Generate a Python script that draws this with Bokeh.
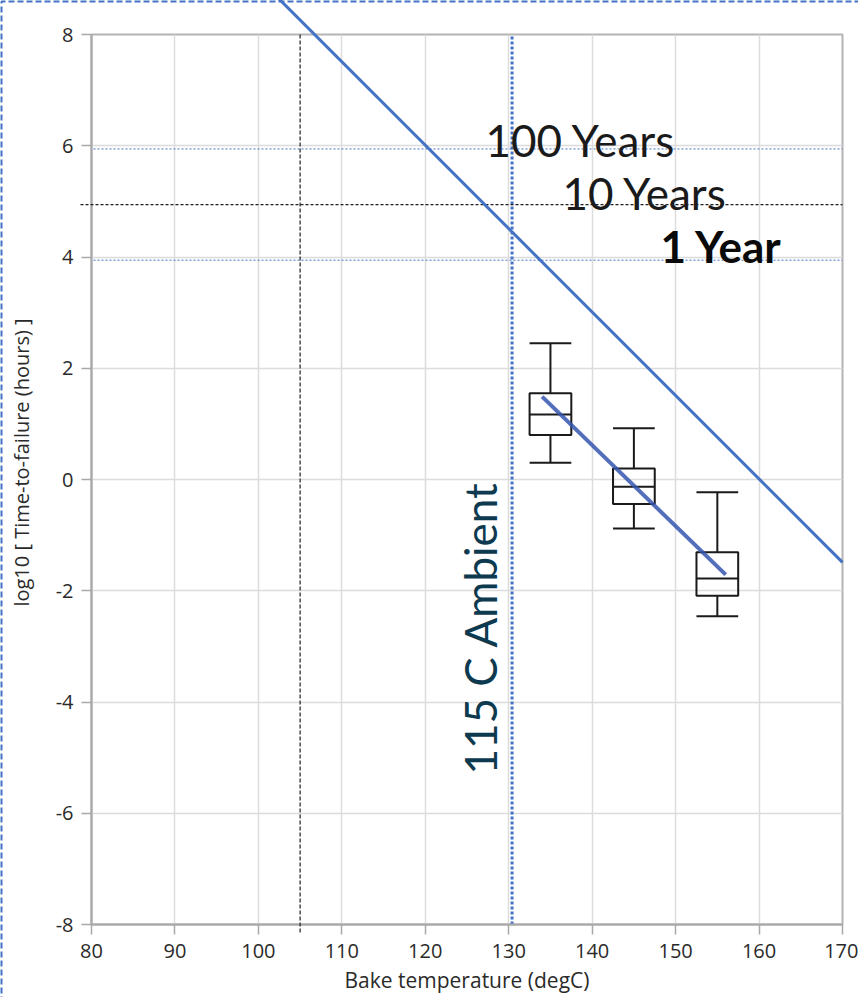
import math
from bokeh.plotting import figure
from bokeh.models import Range1d, FixedTicker, Label
from bokeh.core.properties import value
from bokeh.embed import file_html
from bokeh.resources import INLINE

# ---------------- data ----------------
x_ticks = [80, 90, 100, 110, 120, 130, 140, 150, 160, 170]
y_ticks = [-8, -6, -4, -2, 0, 2, 4, 6, 8]

bake_temp = [135, 145, 155]
whisker_hi = [2.45, 0.92, -0.23]
q3 = [1.55, 0.20, -1.31]
median = [1.17, -0.13, -1.78]
q1 = [0.80, -0.44, -2.09]
whisker_lo = [0.30, -0.88, -2.46]
box_width = 5.0

fit_x = [134.0, 156.0]
fit_y = [1.49, -1.71]

limit_x = [100.0, 170.0]
limit_y = [9.01, -1.49]

years_labels = ["100 Years", "10 Years", "1 Year"]
years_log_hours = [5.9425, 4.9425, 3.9425]

ref_temp = 105.0
ambient_temp = 130.4
ambient_label = "115 C Ambient"

x_title = "Bake temperature (degC)"
y_title = "log10 [ Time-to-failure (hours) ]"

# ---------------- geometry ----------------
W, H = 858, 997
FL, FR, FT, FB = 91, 842, 34, 924
XMIN, XMAX = x_ticks[0], x_ticks[-1]
YMIN, YMAX = y_ticks[0], y_ticks[-1]


def px2x(px):
    return XMIN + (px - FL) * (XMAX - XMIN) / (FR - FL)


def px2y(py):
    return YMAX - (py - FT) * (YMAX - YMIN) / (FB - FT)


p = figure(width=W, height=H, frame_width=FR - FL, frame_height=FB - FT,
           x_range=Range1d(XMIN, XMAX), y_range=Range1d(YMIN, YMAX),
           output_backend="svg", toolbar_location=None,
           min_border_left=FL, min_border_right=W - FR,
           min_border_top=FT, min_border_bottom=H - FB)
p.background_fill_color = "white"
p.border_fill_color = "white"
p.outline_line_color = "#b4b4b4"
p.outline_line_width = 2

AX = "#a8a8a8"
TXT = "#2a2a2a"
FONT = "Open Sans"
for ax in (p.xaxis[0], p.yaxis[0]):
    ax.axis_line_color = AX
    ax.axis_line_width = 2
    ax.major_tick_line_color = AX
    ax.major_tick_line_width = 1.5
    ax.major_tick_out = 10
    ax.major_tick_in = 0
    ax.minor_tick_line_color = None
    ax.major_label_text_font = FONT
    ax.major_label_text_font_size = "20px"
    ax.major_label_text_color = TXT
p.xaxis.ticker = FixedTicker(ticks=x_ticks)
p.yaxis.ticker = FixedTicker(ticks=y_ticks)
p.yaxis.major_label_overrides = {t: str(t) for t in y_ticks}
p.xaxis.major_label_overrides = {t: str(t) for t in x_ticks}
p.xaxis.major_label_standoff = 9
p.yaxis.major_label_standoff = 8
p.xaxis.axis_label = x_title
p.xaxis.axis_label_text_font = FONT
p.xaxis.axis_label_text_font_size = "21px"
p.xaxis.axis_label_text_font_style = "normal"
p.xaxis.axis_label_text_color = TXT
p.xaxis.axis_label_standoff = 5

p.xgrid.ticker = FixedTicker(ticks=x_ticks)
p.ygrid.ticker = FixedTicker(ticks=y_ticks)
for g in (p.xgrid[0], p.ygrid[0]):
    g.grid_line_color = "#dcdcdc"
    g.grid_line_width = 1.5

# reference lines: lifetimes
p.line([px2x(FL - 2), XMAX], [years_log_hours[0]] * 2, line_color="#4472c4",
       line_width=1, line_dash="2 2")
p.line([px2x(FL - 11), XMAX], [years_log_hours[1]] * 2, line_color="#202020",
       line_width=1.2, line_dash="3 2", level="overlay")
p.line([px2x(FL - 2), XMAX], [years_log_hours[2]] * 2, line_color="#4472c4",
       line_width=1, line_dash="2 2")

# vertical reference lines
p.line([ref_temp, ref_temp], [YMAX, px2y(FB + 10)], line_color="#202020",
       line_width=1.2, line_dash="4 2", level="overlay")
p.line([ambient_temp, ambient_temp], [YMIN, YMAX], line_color="#4472c4",
       line_width=3, line_dash="3 2")

# box plots
hw = box_width / 2
left = [t - hw for t in bake_temp]
right = [t + hw for t in bake_temp]
BOX = "#1a1a1a"
p.segment(bake_temp, q3, bake_temp, whisker_hi, line_color=BOX, line_width=2)
p.segment(bake_temp, q1, bake_temp, whisker_lo, line_color=BOX, line_width=2)
p.segment(left, whisker_hi, right, whisker_hi, line_color=BOX, line_width=2)
p.segment(left, whisker_lo, right, whisker_lo, line_color=BOX, line_width=2)
p.quad(left=left, right=right, top=q3, bottom=q1, fill_alpha=0,
       line_color=BOX, line_width=2)
p.segment(left, median, right, median, line_color=BOX, line_width=2)

# fit line through the boxes
p.line(fit_x, fit_y, line_color="#3556b0", line_width=4, line_alpha=0.85)

# extrapolated limit line (runs above the frame)
p.line(limit_x, limit_y, line_color="#4472c4", line_width=3, level="overlay")

# page border (top and left edges visible)
p.line([px2x(1), px2x(1), px2x(W + 5)], [px2y(H + 5), px2y(1), px2y(1)],
       line_color="#4472c4", line_width=2, line_dash="6 3", level="overlay")

# texts
ANN = "Lato"
p.add_layout(Label(x=px2x(485), y=px2y(139), text=years_labels[0],
                   text_font=ANN, text_font_size="44px", text_color="#1a1a1a",
                   text_align="left", text_baseline="alphabetic"))
p.add_layout(Label(x=px2x(562), y=px2y(192), text=years_labels[1],
                   text_font=ANN, text_font_size="44px", text_color="#1a1a1a",
                   text_align="left", text_baseline="alphabetic"))
p.add_layout(Label(x=px2x(660), y=px2y(245), text=years_labels[2],
                   text_font=ANN, text_font_size="44px", text_color="#0a0a0a",
                   text_font_style="bold",
                   text_align="left", text_baseline="alphabetic"))
p.add_layout(Label(x=px2x(479), y=px2y(774), text=ambient_label, angle=math.pi / 2,
                   text_font=ANN, text_font_size="44px", text_color="#0e3a50",
                   text_align="left", text_baseline="alphabetic"))
p.text(x=[px2x(21)], y=[px2y(462)], text=[y_title], angle=math.pi / 2,
       text_font=value(FONT), text_font_size="20px", text_color=TXT,
       text_align="center", text_baseline="middle", level="overlay")

open("out.html", "w").write(file_html(p, INLINE))
